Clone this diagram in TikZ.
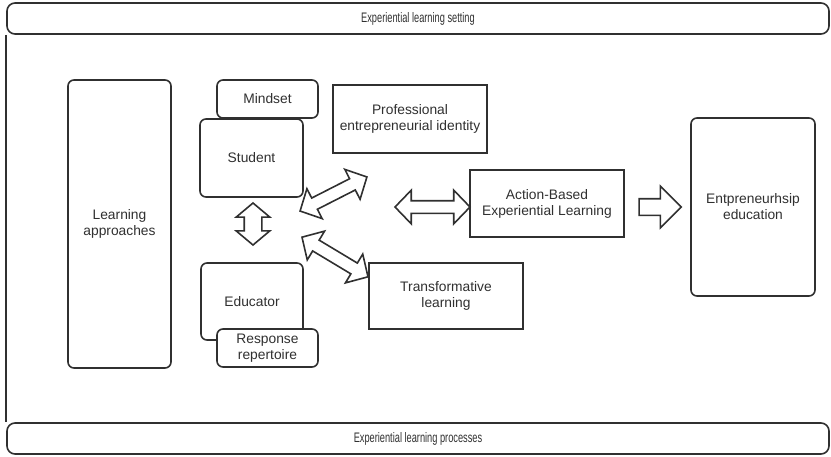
\documentclass[tikz,border=0pt]{standalone}
\usepackage{fontspec}
\setmainfont{Liberation Sans}
\usetikzlibrary{shapes.arrows, calc}
\definecolor{ink}{HTML}{303030}

\tikzset{
  every node/.style={font=\fontsize{13.8}{16}\selectfont, text=ink},
  box/.style={draw=ink, line width=1.6pt, fill=white, align=center, inner sep=2pt},
  roundbox/.style={box, rounded corners=6pt},
  bar/.style={draw=ink, line width=1.6pt, rounded corners=8pt, minimum width=822, minimum height=31},
  twoway/.style={double arrow, draw=ink, line width=1.6pt, fill=white, inner xsep=0pt, inner ysep=5.5pt,
    double arrow head extend=10.5pt, double arrow tip angle=92},
  oneway/.style={single arrow, draw=ink, line width=1.6pt, fill=white, inner xsep=0pt, inner ysep=7.5pt,
    single arrow head extend=12.5pt, single arrow tip angle=90}
}

\begin{document}
\begin{tikzpicture}[x=1pt, y=-1pt]
\useasboundingbox (0,0) rectangle (831,456);

% setting and processes bars, joined by the frame line on the left
\node[bar] (setting) at (418,18.5) {\scalebox{0.67}[1]{Experiential learning setting}};
\node[bar] (processes) at (418,438.5) {\scalebox{0.67}[1]{Experiential learning processes}};
\draw[draw=ink, line width=1.6pt] (setting.south west) -- (processes.north west);

\node[roundbox, minimum width=103, minimum height=288] (approach) at (119.5,224) {Learning\\approaches};

\node[roundbox, minimum width=101, minimum height=38] (mindset) at (267.5,99) {Mindset};
\node[roundbox, minimum width=103, minimum height=78] (student) at (251.5,158) {Student};
\node[roundbox, minimum width=102, minimum height=77] (educator) at (252,301.5) {Educator};
\node[roundbox, minimum width=101, minimum height=38] (repertoire) at (267.5,348) {Response\\repertoire};

\node[box, minimum width=154, minimum height=68] (identity) at (410,119) {Professional\\entrepreneurial identity};
\node[box, minimum width=154, minimum height=67] (action) at (547,203.5) {Action-Based\\Experiential Learning};
\node[box, minimum width=154, minimum height=66] (transform) at (446,296) {Transformative\\learning};
\node[roundbox, minimum width=124, minimum height=178] (entre) at (753,207) {Entpreneurhsip\\education};

% block arrows
\coordinate (v1) at (253,203);
\coordinate (v2) at (253,245);
\coordinate (u1) at (300,211);
\coordinate (u2) at (367,177);
\coordinate (d1) at (302,237);
\coordinate (d2) at (368,277);
\coordinate (h1) at (395,207);
\coordinate (h2) at (470,207);
\coordinate (r1) at (635,207);
\coordinate (r2) at (677,207);

\node[twoway, inner ysep=8pt, double arrow head extend=8pt, double arrow tip angle=100,
  minimum height=42, rotate=90] (linkv) at ($(v1)!0.5!(v2)$) {};
\node[twoway, minimum height=75, rotate=27] (linku) at ($(u1)!0.5!(u2)$) {};
\node[twoway, minimum height=77, rotate=-31] (linkd) at ($(d1)!0.5!(d2)$) {};
\node[twoway, minimum height=75] (linkh) at ($(h1)!0.5!(h2)$) {};
\node[oneway, minimum height=42] (linkr) at ($(r1)!0.5!(r2)$) {};
\end{tikzpicture}
\end{document}
